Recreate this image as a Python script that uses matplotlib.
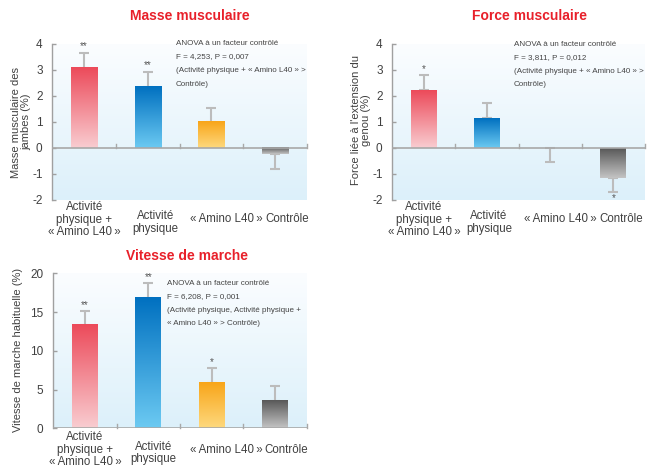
import numpy as np
import matplotlib
matplotlib.use("Agg")
import matplotlib.pyplot as plt
from matplotlib.colors import LinearSegmentedColormap
from matplotlib.transforms import blended_transform_factory

plt.rcParams['font.family'] = ['Liberation Sans', 'DejaVu Sans']

categories = ["Activité\nphysique +\n«\u2009Amino L40\u2009»", "Activité\nphysique",
              "«\u2009Amino L40\u2009»", "Contrôle"]

masse_vals = [3.09, 2.36, 1.01, -0.24]
masse_err = [0.57, 0.56, 0.54, 0.56]
masse_stars = ["**", "**", "", ""]

force_vals = [2.23, 1.15, 0.0, -1.14]
force_err = [0.56, 0.57, 0.53, 0.55]
force_stars = ["*", "", "", "*"]

vitesse_vals = [13.3, 16.8, 5.85, 3.53]
vitesse_err = [1.8, 1.9, 1.9, 1.93]
vitesse_stars = ["**", "**", "*", ""]

masse_ticks = [-2, -1, 0, 1, 2, 3, 4]
vitesse_ticks = [0, 5, 10, 15, 20]

anova_masse = ["ANOVA à un facteur contrôlé", "F = 4,253, P = 0,007",
               "(Activité physique + « Amino L40 » >", "Contrôle)"]
anova_force = ["ANOVA à un facteur contrôlé", "F = 3,811, P = 0,012",
               "(Activité physique + « Amino L40 » >", "Contrôle)"]
anova_vitesse = ["ANOVA à un facteur contrôlé", "F = 6,208, P = 0,001",
                 "(Activité physique, Activité physique +", "« Amino L40 » > Contrôle)"]

# (dark end, light base)
bar_colors = [("#ec4a5a", "#f9cdd1"), ("#0070c0", "#6ccaf2"),
              ("#f8a519", "#fed97e"), ("#585858", "#c4c4c4")]

W, H = 654, 467
fig = plt.figure(figsize=(W / 100, H / 100), dpi=100)

TXT = "#404040"


def fx(px):
    return px / W


def fy(py):
    return 1 - py / H


def draw_panel(rect, vals, errs, stars, ylim, ticks, ylabel, anova, anova_xy,
               title, title_xy, ylabel_xy, label_y, star_off, offs, neg_err_idx=()):
    ax = fig.add_axes(rect)
    bg = LinearSegmentedColormap.from_list("bg", ["#dcf0fa", "#fbfdff"])
    grad = np.linspace(0, 1, 256).reshape(-1, 1)
    ax.imshow(grad, cmap=bg, aspect="auto", extent=[0, 1, 0, 1],
              transform=ax.transAxes, origin="lower", zorder=0)
    x = np.arange(len(vals))
    bars = ax.bar(x, vals, width=0.41, color="none", zorder=2)
    for b, v, (dark, light) in zip(bars, vals, bar_colors):
        if v == 0:
            continue
        cm = LinearSegmentedColormap.from_list("c", [light, dark])
        x0 = b.get_x()
        x1 = x0 + b.get_width()
        g = np.linspace(0, 1, 256).reshape(-1, 1)
        ax.imshow(g, cmap=cm, aspect="auto", extent=[x0, x1, 0, v],
                  origin="lower" if v > 0 else "upper", zorder=2)
    ax.set_xlim(-0.5, 3.5)
    ax.set_ylim(*ylim)
    for xi, v, e in zip(x, vals, errs):
        down = v < 0 or xi in neg_err_idx
        yerr = [[e], [0]] if down else [[0], [e]]
        ax.errorbar([xi], [v], yerr=yerr, fmt="none", ecolor="#bcbcbc",
                    elinewidth=1.5, capsize=3.5, capthick=1.5, zorder=1.5)
    span = ylim[1] - ylim[0]
    for xi, v, e, s in zip(x, vals, errs, stars):
        if not s:
            continue
        if v >= 0:
            ax.text(xi, v + e + star_off * span, s, ha="center", va="bottom",
                    fontsize=7, color="#555555", zorder=4)
        else:
            ax.text(xi, v - e - star_off * span, s, ha="center", va="top",
                    fontsize=7, color="#555555", zorder=4)
    ax.axhline(0, color="#a8a8a8", lw=1.2, zorder=3)
    sep_len = 0.025 * span
    for b in [0.5, 1.5, 2.5, 3.5]:
        ax.plot([b, b], [0, sep_len], color="#a8a8a8", lw=1.0, zorder=3,
                clip_on=False)
    for sp in ["top", "right", "bottom"]:
        ax.spines[sp].set_visible(False)
    ax.spines["left"].set_color("#a0a0a0")
    ax.spines["left"].set_linewidth(1.0)
    ax.set_xticks([])
    ax.set_yticks(ticks)
    ax.set_yticklabels([str(t) for t in ticks])
    ax.tick_params(axis="y", direction="in", length=3, width=1, colors="#a0a0a0",
                   labelcolor=TXT, labelsize=8.5, pad=7)
    trans = blended_transform_factory(ax.transData, ax.transAxes)
    for i, (xi, lab, o) in enumerate(zip(x, categories, offs)):
        ly = label_y - (0.02 if i == 1 else 0)
        ax.text(xi + o, ly, lab, ha="center", va="center", transform=trans,
                fontsize=8.3, color=TXT, linespacing=1.05, clip_on=False)
    fig.text(fx(title_xy[0]), fy(title_xy[1]), title, ha="center", va="center",
             fontsize=10, fontweight="bold", color="#e8202a")
    fig.text(fx(ylabel_xy[0]), fy(ylabel_xy[1]), ylabel, ha="center", va="center",
             rotation=90, fontsize=8, color=TXT, linespacing=0.95)
    for i, line in enumerate(anova):
        fig.text(fx(anova_xy[0]), fy(anova_xy[1] + i * 13.5), line, ha="left",
                 va="center", fontsize=5.8, color="#444444")
    return ax


top_rect_y = fy(200)
top_h = 156 / H

draw_panel([fx(52.3), top_rect_y, 254.4 / W, top_h], masse_vals, masse_err, masse_stars,
           (-2, 4), masse_ticks, "Masse musculaire des\njambes (%)", anova_masse,
           (176, 43.5), "Masse musculaire", (190, 16), (21, 122), -0.125, 0.01,
           [0, 0.12, 0.24, 0.2])

draw_panel([fx(392.3), top_rect_y, 252.7 / W, top_h], force_vals, force_err, force_stars,
           (-2, 4), masse_ticks, "Force liée à l'extension du\ngenou (%)", anova_force,
           (513.7, 44.5), "Force musculaire", (529, 16), (361, 120), -0.125, 0.01,
           [0, 0.03, 0.16, 0.13], neg_err_idx=(2,))

draw_panel([fx(53.3), fy(428.3), 253.4 / W, 155 / H], vitesse_vals, vitesse_err, vitesse_stars,
           (0, 20), vitesse_ticks, "Vitesse de marche habituelle (%)", anova_vitesse,
           (166.7, 283.3), "Vitesse de marche", (187, 256), (18, 350), -0.138, 0.01,
           [0, 0.08, 0.23, 0.18])

fig.savefig("out.png", dpi=100, facecolor="white")
